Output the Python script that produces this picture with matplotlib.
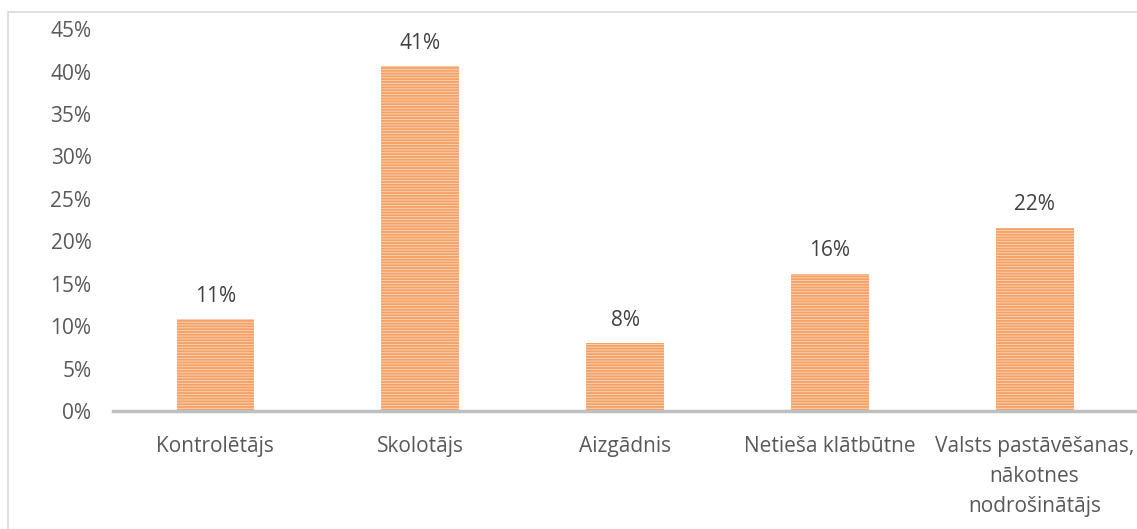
import matplotlib.pyplot as plt
from matplotlib.patches import Rectangle

categories = ['Kontrolētājs', 'Skolotājs', 'Aizgādnis', 'Netieša klātbūtne',
              'Valsts pastāvēšanas,\nnākotnes\nnodrošinātājs']
values = [10.8, 40.6, 8.0, 16.2, 21.6]
yticks = [0, 5, 10, 15, 20, 25, 30, 35, 40, 45]

plt.rcParams['font.family'] = ['Open Sans', 'DejaVu Sans']
plt.rcParams['hatch.linewidth'] = 1.3
text_col = '#595959'

fig = plt.figure(figsize=(11.37, 5.29), dpi=100)
ax = fig.add_axes([0.0994, 0.223, 0.9006, 0.722])

x = range(len(categories))
ax.bar(x, values, width=0.38, color='#F9D2B6', edgecolor='#F5A064',
       linewidth=0, hatch='------')

for i, v in enumerate(values):
    ax.annotate(f'{round(v):.0f}%', (i, v), xytext=(0, 9), textcoords='offset points',
                ha='center', va='bottom', fontsize=15, color='#404040')

ax.set_xlim(-0.5, len(categories) - 0.5)
ax.set_ylim(0, 45)
ax.set_yticks(yticks)
ax.set_yticklabels([f'{t}%' for t in yticks])
ax.set_xticks(list(x))
ax.set_xticklabels(categories, linespacing=1.55)
ax.tick_params(axis='both', length=0, labelsize=15, labelcolor=text_col)
ax.tick_params(axis='y', pad=15.5)
ax.tick_params(axis='x', pad=18)

for s in ['top', 'right', 'left']:
    ax.spines[s].set_visible(False)
ax.spines['bottom'].set_color('#BFBFBF')
ax.spines['bottom'].set_linewidth(2.5)

# chart area frame
fig.patches.append(Rectangle((8 / 1137, -0.1), 1.2, 1 - 12 / 529 + 0.1,
                             transform=fig.transFigure, fill=False,
                             edgecolor='#D9D9D9', linewidth=1.2))

fig.savefig('out.png', dpi=100)
